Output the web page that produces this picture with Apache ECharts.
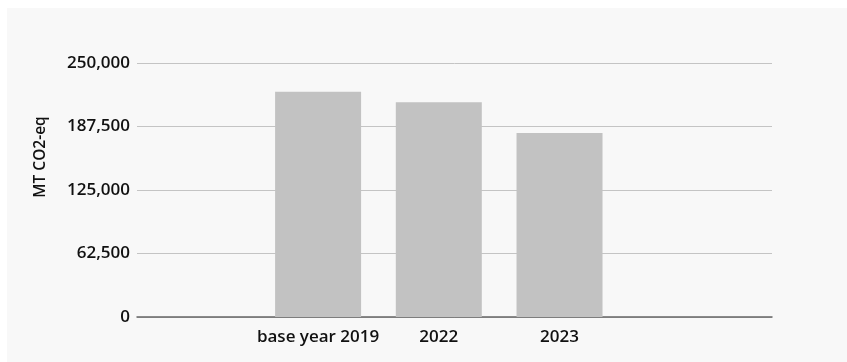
<!DOCTYPE html>
<html>
<head>
<meta charset="utf-8">
<script src="https://cdn.jsdelivr.net/npm/echarts@6/dist/echarts.min.js"></script>
<style>
  html, body { margin: 0; padding: 0; background: #ffffff; }
  #chart { width: 847px; height: 362px; }
</style>
</head>
<body>
<div id="chart"></div>
<script>
// ---- data ----
const categories = ['base year 2019', '2022', '2023'];
const categoryPositions = [1, 2, 3];
const emissions = [221700, 211300, 181100];
const yTicks = [0, 62500, 125000, 187500, 250000];
const yAxisTitle = 'MT CO2-eq';

const FONT = '"Open Sans", "Noto Sans", sans-serif';
const chart = echarts.init(document.getElementById('chart'), null, { renderer: 'canvas' });

const option = {
  backgroundColor: '#ffffff',
  animation: false,
  graphic: [{
    type: 'rect', left: 7, top: 8, z: -10, silent: true,
    shape: { width: 847, height: 362 },
    style: { fill: '#f8f8f8' }
  }],
  grid: { left: 137, right: 75, top: 63, bottom: 45, containLabel: false },
  xAxis: {
    type: 'value',
    min: -0.5,
    max: 4.76,
    splitLine: { show: false },
    axisLine: { show: true, onZero: false, lineStyle: { color: '#666666', width: 1.5 } },
    axisTick: { show: false },
    axisLabel: {
      customValues: categoryPositions,
      formatter: function (v) {
        const i = categoryPositions.indexOf(Math.round(v));
        return i >= 0 ? categories[i] : '';
      },
      color: '#111111', fontFamily: FONT, fontWeight: 600, fontSize: 17, margin: 12
    }
  },
  yAxis: {
    type: 'value',
    min: yTicks[0],
    max: yTicks[yTicks.length - 1],
    interval: yTicks[1] - yTicks[0],
    name: yAxisTitle,
    nameLocation: 'middle',
    nameRotate: 90,
    nameGap: 88,
    nameTextStyle: { color: '#111111', fontFamily: FONT, fontWeight: 600, fontSize: 15.5, padding: [0, 0, 0, 66] },
    axisLine: { show: false },
    axisTick: { show: false },
    splitLine: { lineStyle: { color: '#c4c4c4', width: 1 } },
    axisLabel: {
      color: '#111111', fontFamily: FONT, fontWeight: 600, fontSize: 17, margin: 7,
      formatter: function (v) { return v.toLocaleString('en-US'); }
    }
  },
  series: [{
    type: 'bar',
    barWidth: 86,
    itemStyle: { color: '#c2c2c2' },
    data: categoryPositions.map((p, i) => [p, emissions[i]])
  }]
};
chart.setOption(option);
</script>
</body>
</html>
